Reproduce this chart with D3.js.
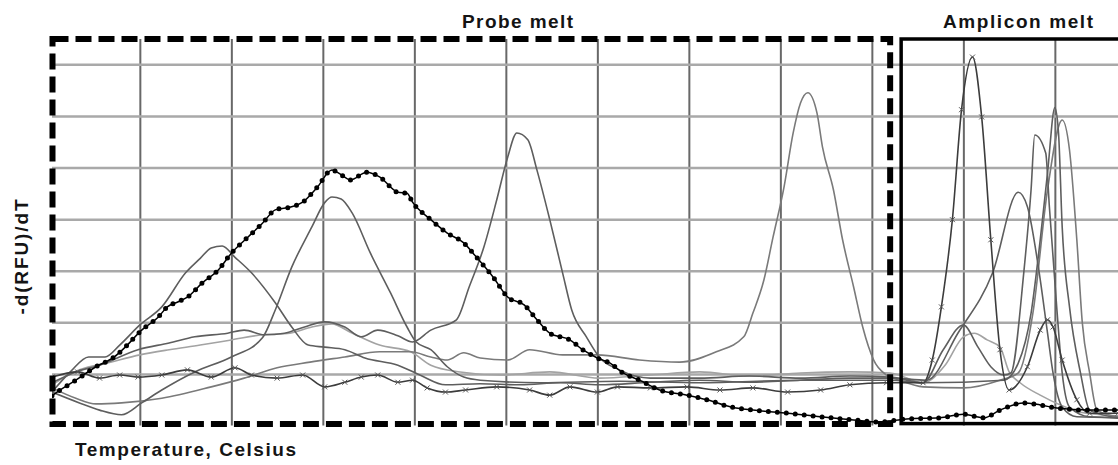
<!DOCTYPE html>
<html lang="en">
<head>
  <meta charset="UTF-8" />
  <title>Probe melt / Amplicon melt</title>
  <script src="https://d3js.org/d3.v7.min.js"></script>
  <style>
    body {
      margin: 0;
      background: #fff;
    }
    svg {
      display: block;
      font-family: "Liberation Sans", Arial, sans-serif;
    }
    .grid-x line {
      stroke: #686868;
      stroke-width: 2;
    }
    .grid-y line {
      stroke: #a9a9a9;
      stroke-width: 2.5;
    }
    .grid-x .domain, .grid-y .domain, .grid-x text, .grid-y text {
      display: none;
    }
    .label {
      font-weight: bold;
      font-size: 19px;
      fill: #141414;
    }
  </style>
</head>
<body>
  <div id="chart"></div>
  <script>
    // gridlines (temperature, Celsius / -d(RFU)/dT, arbitrary units)
    const tempTicks = [40, 45, 50, 55, 60, 65, 70, 75, 80, 85, 90];
    const valueTicks = [100, 200, 300, 400, 500, 600, 700];
    const probeRange = [35.2, 81.0];
    const ampliconRange = [81.6, 94.0];

    // curves: [temperature, -d(RFU)/dT]
    const curveA = [[35.2,65],[36.2,104],[37.2,133],[38.1,133],[38.9,156],[40.0,195],[41.2,230],[42.5,296],[43.3,324],[43.9,344],[44.5,348],[45.2,326],[46.1,296],[47.4,238],[48.3,191],[49.2,156],[50.1,152],[51.2,147],[52.3,131],[54.1,117],[55.3,98],[56.7,79],[58.6,81],[60.8,79],[63.0,83],[65.1,79],[67.9,84],[70.6,88],[73.3,84],[76.1,88],[78.8,92],[81.0,92],[83.0,88],[84.7,179],[86.6,296],[88.0,452],[88.5,424],[89.1,307],[89.6,179],[89.9,102],[90.4,36],[91.2,17],[93.45,15]];

    const curveB = [[35.2,65],[36.7,44],[37.8,30],[39.0,21],[40.1,44],[41.2,69],[43.0,104],[45.0,133],[46.7,170],[47.4,224],[48.3,307],[49.4,385],[50.1,432],[50.5,443],[51.0,439],[51.6,412],[52.6,334],[53.7,257],[54.6,191],[55.1,162],[55.9,147],[56.8,114],[57.7,94],[58.6,88],[61.9,83],[66.2,86],[70.6,83],[76.1,88],[81.0,88],[82.8,83],[83.9,147],[85.0,195],[85.8,152],[86.5,114],[87.2,98],[87.6,102],[88.3,296],[88.7,457],[88.9,563],[89.5,528],[89.7,424],[90.1,230],[90.4,102],[90.8,36],[91.9,17],[93.45,15]];

    const curveC = [[35.2,83],[36.5,104],[37.8,117],[39.9,147],[41.6,160],[43.0,172],[44.8,179],[45.7,185],[46.8,176],[47.9,179],[49.0,191],[50.1,201],[51.2,191],[52.1,172],[53.0,185],[54.1,174],[54.9,162],[55.9,185],[57.3,205],[58.0,269],[58.8,346],[59.5,437],[60.1,520],[60.6,567],[61.2,554],[61.7,495],[62.4,399],[63.1,296],[63.6,224],[64.4,172],[65.1,133],[66.2,108],[67.9,92],[70.6,92],[73.3,96],[76.1,92],[78.8,96],[81.0,94],[82.8,83],[87.2,88],[88.0,121],[88.7,218],[89.2,360],[89.6,490],[90.0,616],[90.2,567],[90.4,385],[90.8,230],[91.4,102],[91.9,30],[93.45,15]];

    const curveD = [[35.2,73],[36.5,53],[37.6,42],[39.0,44],[41.2,53],[43.9,75],[45.7,92],[47.5,112],[49.3,123],[51.2,133],[53.1,143],[54.8,143],[55.9,133],[56.8,127],[57.7,141],[58.6,131],[60.1,127],[61.3,147],[63.1,137],[65.0,137],[67.3,127],[69.5,123],[71.5,143],[73.0,172],[73.5,218],[74.1,282],[74.6,365],[75.2,462],[75.7,567],[76.1,625],[76.5,645],[77.0,606],[77.3,540],[77.9,457],[78.4,360],[79.0,269],[79.5,191],[80.1,127],[80.8,98],[81.5,88],[82.8,75],[85.0,73],[87.0,88],[88.0,102],[88.8,218],[89.6,457],[90.4,592],[90.8,534],[91.2,360],[91.5,199],[91.9,102],[92.3,30],[93.45,17]];

    const curveE = [[35.2,58],[35.4,63],[36.5,88],[37.6,114],[38.6,133],[39.2,152],[40.1,185],[41.0,210],[41.5,230],[42.1,240],[42.6,249],[43.4,276],[44.3,302],[45.0,334],[45.9,365],[46.7,392],[47.4,418],[48.3,424],[48.9,433],[49.7,462],[50.5,495],[51.0,486],[51.5,476],[52.4,491],[53.1,482],[54.1,452],[54.6,450],[54.9,433],[55.9,399],[56.8,373],[57.7,354],[58.4,326],[59.3,288],[60.1,249],[61.0,234],[61.7,205],[62.4,179],[63.5,166],[64.2,147],[65.0,131],[65.7,121],[66.4,102],[67.3,88],[68.4,69],[69.9,59],[71.0,50],[72.3,36],[73.5,30],[75.4,24],[77.2,17],[79.0,11],[80.4,7],[81.9,13],[83.7,15],[85.0,22],[86.1,15],[87.0,30],[88.3,44],[89.2,40],[90.1,34],[91.9,30],[93.45,30]];

    const curveF = [[35.2,94],[36.6,104],[37.8,92],[38.9,98],[39.9,94],[41.2,98],[42.6,108],[43.9,94],[45.2,112],[46.1,98],[47.5,92],[48.9,98],[50.1,75],[51.2,84],[52.1,94],[53.0,98],[54.1,84],[54.9,88],[55.7,73],[56.7,65],[57.8,69],[59.5,75],[61.3,69],[62.4,59],[63.5,75],[65.0,65],[66.1,75],[67.9,73],[69.9,75],[71.7,69],[73.5,73],[75.4,65],[77.2,69],[78.8,79],[80.8,83],[82.8,83],[83.3,127],[83.8,230],[84.4,399],[84.9,612],[85.5,714],[86.0,598],[86.5,360],[87.0,147],[87.5,69],[88.5,114],[89.2,185],[89.6,205],[89.9,191],[90.4,127],[91.2,50],[91.9,24],[93.45,24]];

    const curveG = [[35.2,79],[36.7,108],[38.4,123],[40.0,137],[41.6,147],[43.3,156],[45.0,166],[46.7,176],[48.2,179],[49.4,191],[50.5,197],[51.5,181],[53.1,156],[54.8,143],[55.9,117],[57.5,104],[59.7,98],[62.4,104],[65.1,92],[67.9,98],[70.6,104],[73.3,96],[76.1,102],[78.8,104],[81.0,102],[82.8,83],[84.0,117],[85.0,172],[85.6,179],[86.3,166],[87.0,152],[87.5,104],[88.1,83],[89.2,59],[90.3,40],[91.4,26],[93.45,19]];

    const width = 1118;
    const height = 465;

    const x = d3.scaleLinear()
      .domain([35.2, 93.45])
      .range([52, 1118]);

    const y = d3.scaleLinear()
      .domain([0, 749])
      .range([425.6, 39]);

    const svg = d3.select("#chart")
      .append("svg")
      .attr("width", width)
      .attr("height", height);

    svg.append("defs").append("clipPath")
      .attr("id", "plot-clip")
      .append("rect")
      .attr("x", x(35.2))
      .attr("y", y(749))
      .attr("width", x(93.45) - x(35.2))
      .attr("height", y(0) - y(749));

    // grid
    svg.append("g")
      .attr("class", "grid-x")
      .attr("transform", `translate(0,${y(0)})`)
      .call(d3.axisBottom(x).tickValues(tempTicks).tickSize(-(y(0) - y(749))).tickFormat(""));

    svg.append("g")
      .attr("class", "grid-y")
      .attr("transform", `translate(${x(35.2)},0)`)
      .call(d3.axisLeft(y).tickValues(valueTicks).tickSize(-(x(93.45) - x(35.2))).tickFormat(""));

    const line = d3.line()
      .x(d => x(d[0]))
      .y(d => y(d[1]))
      .curve(d3.curveMonotoneX);

    const curves = svg.append("g").attr("clip-path", "url(#plot-clip)");

    // light gray trace first, darker ones on top
    curves.append("path")
      .attr("fill", "none")
      .attr("stroke", "#a3a3a3")
      .attr("stroke-width", 1.6)
      .attr("d", line(curveG));

    [curveD, curveC, curveB, curveA].forEach((c, i) => {
      curves.append("path")
        .attr("fill", "none")
        .attr("stroke", i === 0 ? "#7a7a7a" : "#5e5e5e")
        .attr("stroke-width", 1.6)
        .attr("d", line(c));
    });

    // x-marked trace
    curves.append("path")
      .attr("fill", "none")
      .attr("stroke", "#3c3c3c")
      .attr("stroke-width", 1.6)
      .attr("d", line(curveF));

    curves.selectAll(".xmark")
      .data(curveF)
      .enter()
      .append("path")
      .attr("class", "xmark")
      .attr("transform", d => `translate(${x(d[0])},${y(d[1])})`)
      .attr("d", "M-2.5,-2.5L2.5,2.5M-2.5,2.5L2.5,-2.5")
      .attr("stroke", "#555")
      .attr("stroke-width", 1);

    // dotted black trace
    curves.append("path")
      .attr("fill", "none")
      .attr("stroke", "#000")
      .attr("stroke-width", 1.5)
      .attr("d", line(curveE));

    curves.append("path")
      .attr("fill", "none")
      .attr("stroke", "#000")
      .attr("stroke-width", 5)
      .attr("stroke-linecap", "round")
      .attr("stroke-dasharray", "0 9")
      .attr("d", line(curveE));

    // Amplicon melt box (solid)
    svg.append("rect")
      .attr("x", x(ampliconRange[0]))
      .attr("y", y(749))
      .attr("width", x(ampliconRange[1]) - x(ampliconRange[0]))
      .attr("height", y(0) - 2 - y(749))
      .attr("fill", "none")
      .attr("stroke", "#000")
      .attr("stroke-width", 3.5);

    // Probe melt box (dashed)
    svg.append("rect")
      .attr("x", x(probeRange[0]) + 0.5)
      .attr("y", y(749))
      .attr("width", x(probeRange[1]) - x(probeRange[0]) - 0.5)
      .attr("height", y(0) - 1.5 - y(749))
      .attr("fill", "none")
      .attr("stroke", "#000")
      .attr("stroke-width", 6)
      .attr("stroke-dasharray", "16 7");

    // labels
    svg.append("text")
      .attr("class", "label")
      .attr("x", 462)
      .attr("y", 28)
      .attr("textLength", 111)
      .attr("lengthAdjust", "spacing")
      .text("Probe melt");

    svg.append("text")
      .attr("class", "label")
      .attr("x", 943)
      .attr("y", 28)
      .attr("textLength", 150)
      .attr("lengthAdjust", "spacing")
      .text("Amplicon melt");

    svg.append("text")
      .attr("class", "label")
      .attr("x", 75)
      .attr("y", 456)
      .attr("textLength", 221)
      .attr("lengthAdjust", "spacing")
      .text("Temperature, Celsius");

    svg.append("text")
      .attr("class", "label")
      .attr("transform", "translate(28,257) rotate(-90)")
      .attr("text-anchor", "middle")
      .attr("textLength", 115)
      .attr("lengthAdjust", "spacing")
      .text("-d(RFU)/dT");
  </script>
</body>
</html>
